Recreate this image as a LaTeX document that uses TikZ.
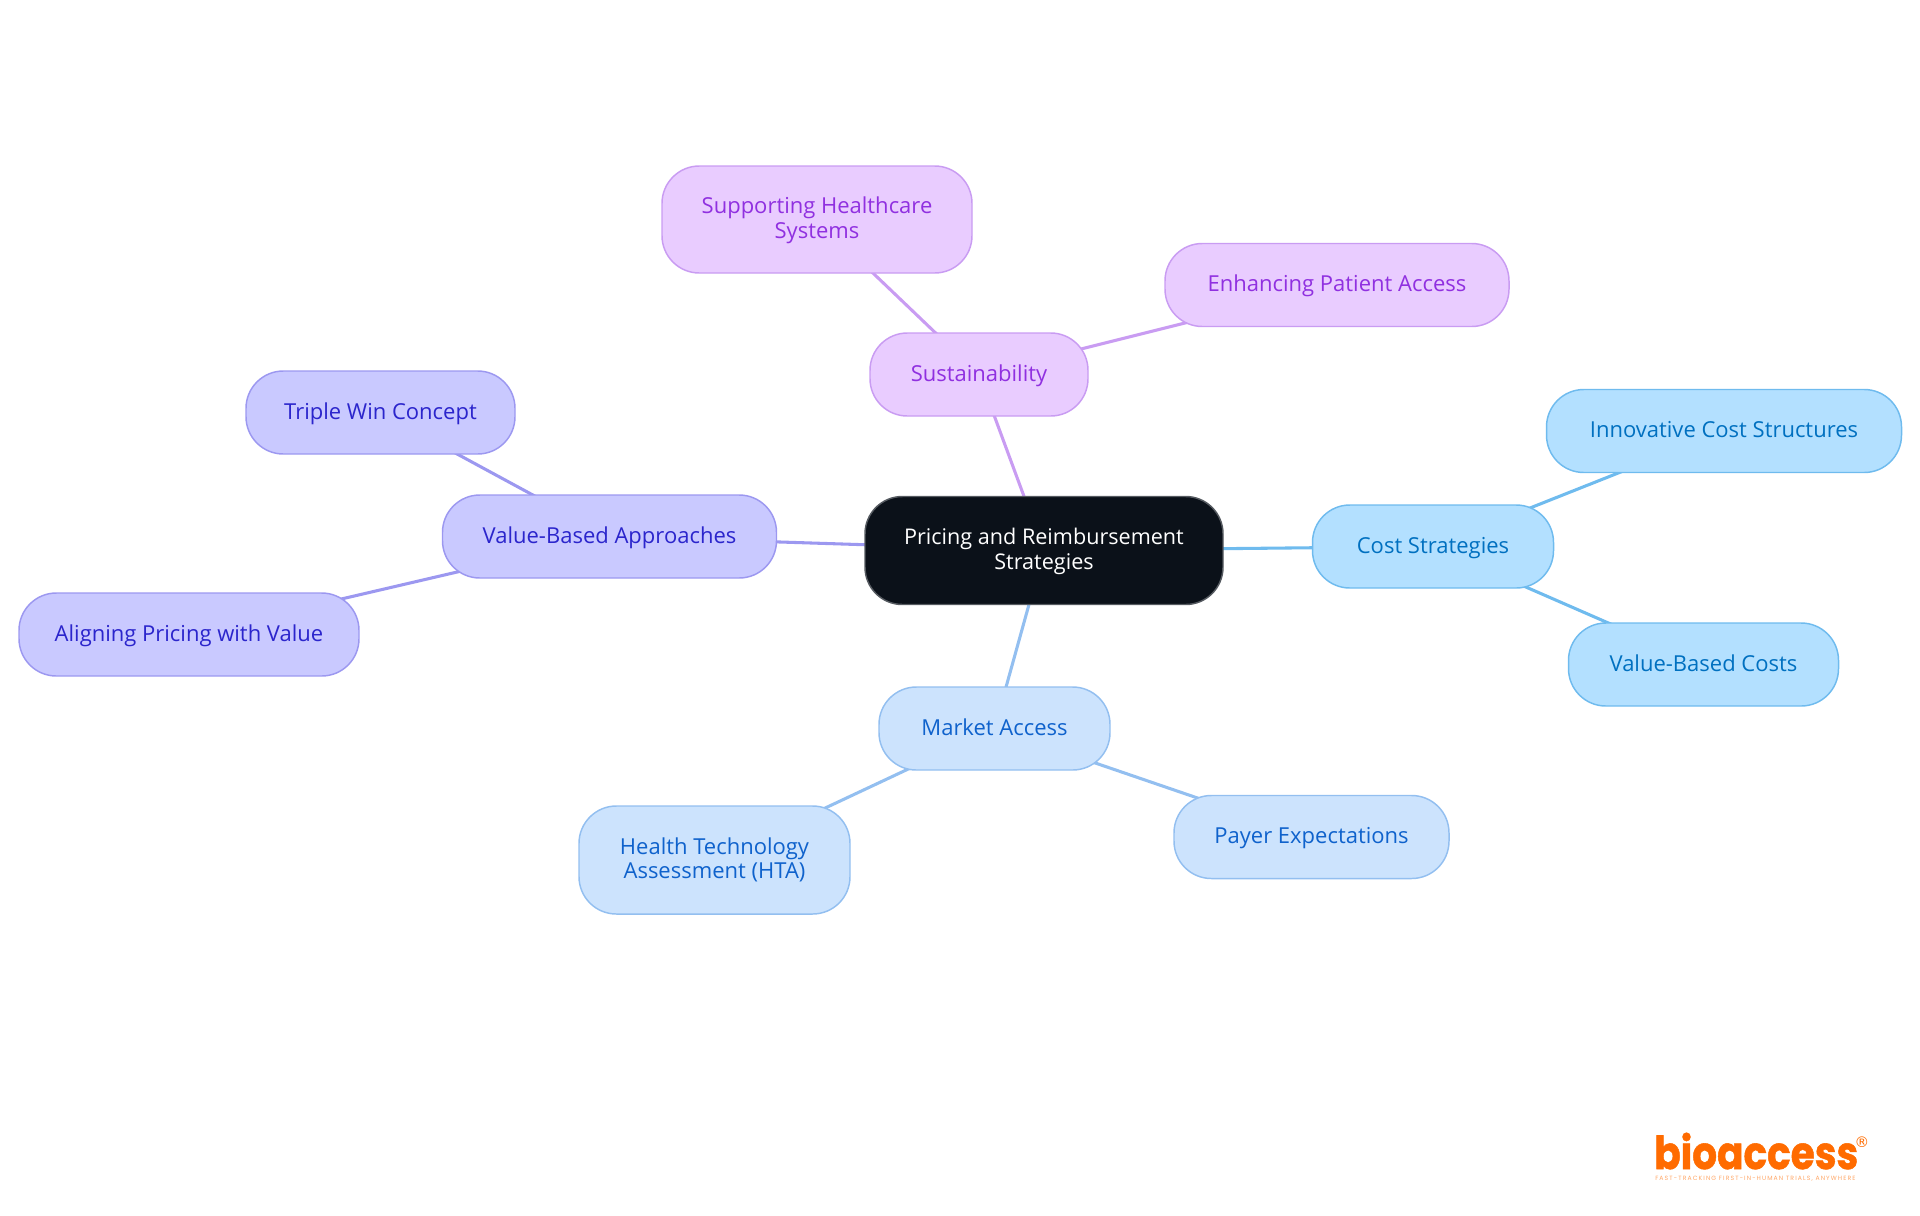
\documentclass[tikz,border=0pt]{standalone}
\usepackage{graphicx}
\usepackage{fontspec}
\setmainfont{Open Sans}
\newfontfamily\logofont[BoldFeatures={FakeBold=1.2}]{Poppins}
\newfontfamily\regfont{DejaVu Sans}
\usetikzlibrary{backgrounds}
\definecolor{centerfill}{HTML}{0B1119}
\definecolor{centerline}{HTML}{555A60}
\definecolor{purplefill}{HTML}{E9CCFF}
\definecolor{purpleline}{HTML}{C99CF2}
\definecolor{purpletext}{HTML}{9030E0}
\definecolor{skyfill}{HTML}{B3E0FF}
\definecolor{skyline}{HTML}{6FBBEE}
\definecolor{skytext}{HTML}{0070C0}
\definecolor{bluefill}{HTML}{CCE3FD}
\definecolor{blueline}{HTML}{93BFF0}
\definecolor{bluetext}{HTML}{0F62CC}
\definecolor{violetfill}{HTML}{C9C9FF}
\definecolor{violetline}{HTML}{9C98F0}
\definecolor{violettext}{HTML}{2B25CC}
\definecolor{logoorange}{HTML}{FF6B00}
\tikzset{
  x=0.75pt,y=-0.75pt,
  box/.style={rectangle,rounded corners=28pt,line width=1.1pt,inner sep=0pt,align=center,
    font=\fontsize{16.5pt}{18.4pt}\selectfont},
  oneline/.style={text height=13.9pt,text depth=3.6pt},
  twoline/.style={text depth=2.8pt},
  centerbox/.style={box,twoline,fill=centerfill,draw=centerline,text=white,minimum width=268.5pt,minimum height=81pt,
    font=\fontsize{16.2pt}{18.4pt}\selectfont},
  purplebox/.style={box,fill=purplefill,draw=purpleline,text=purpletext},
  skybox/.style={box,fill=skyfill,draw=skyline,text=skytext},
  bluebox/.style={box,fill=bluefill,draw=blueline,text=bluetext},
  violetbox/.style={box,fill=violetfill,draw=violetline,text=violettext},
  link/.style={line width=2.3pt},
  sz/.style n args={2}{minimum width=#1*0.75pt,minimum height=#2*0.75pt},
}
\begin{document}
\begin{tikzpicture}
\useasboundingbox (0,0) rectangle (1920,1215);
\node[centerbox] (root) at (1044,550.5) {Pricing and Reimbursement\\Strategies};
\node[purplebox,oneline,sz={218}{83}] (sus) at (979,374.5) {Sustainability};
\node[purplebox,twoline,sz={310}{107}] (sup) at (817,219.5) {Supporting Healthcare\\Systems};
\node[purplebox,oneline,sz={344}{83}] (enh) at (1337,285) {Enhancing Patient Access};
\node[skybox,oneline,sz={241}{83}] (cost) at (1433,546.5) {Cost Strategies};
\node[skybox,oneline,sz={355}{83}] (inn) at (1724,431) {Innovative Cost Structures};
\node[skybox,oneline,sz={270}{83}] (vbc) at (1703.5,664.5) {Value-Based Costs};
\node[bluebox,oneline,sz={231}{83}] (mar) at (994.5,728.5) {Market Access};
\node[bluebox,oneline,sz={275}{83}] (pay) at (1311.5,837) {Payer Expectations};
\node[bluebox,twoline,sz={271}{108}] (hta) at (714.5,860) {Health Technology\\Assessment (HTA)};
\node[violetbox,oneline,sz={334}{83}] (vba) at (609.5,536.5) {Value-Based Approaches};
\node[violetbox,oneline,sz={269}{83}] (tri) at (380.5,412.5) {Triple Win Concept};
\node[violetbox,oneline,sz={340}{83}] (ali) at (189,634.5) {Aligning Pricing with Value};
\node[anchor=base west,inner sep=0pt,text=logoorange,font=\logofont\bfseries\fontsize{34pt}{34pt}\selectfont] (logo) at (1654,1169) {\scalebox{0.86}[1]{bioaccess}};
\node[inner sep=0pt,text=logoorange,font=\regfont\fontsize{11pt}{11pt}\selectfont] (reg) at (1862,1142) {®};
\node[anchor=base west,inner sep=0pt,text height=3.4pt,text depth=0pt,text=logoorange!60,font=\logofont\fontsize{4.6pt}{5pt}\selectfont] (tag) at (1655,1180) {\addfontfeatures{LetterSpace=18}FAST-TRACKING FIRST-IN-HUMAN TRIALS, ANYWHERE};
\begin{scope}[on background layer]
\draw[link,purpleline] (root.center) -- (sus.center);
\draw[link,purpleline] (sus.center) -- (sup.center);
\draw[link,purpleline] (sus.center) -- (enh.center);
\draw[link,skyline] (root.center) -- (cost.center);
\draw[link,skyline] (cost.center) -- (inn.center);
\draw[link,skyline] (cost.center) -- (vbc.center);
\draw[link,blueline] (root.center) -- (mar.center);
\draw[link,blueline] (mar.center) -- (pay.center);
\draw[link,blueline] (mar.center) -- (hta.center);
\draw[link,violetline] (root.center) -- (vba.center);
\draw[link,violetline] (vba.center) -- (tri.center);
\draw[link,violetline] (vba.center) -- (ali.center);
\end{scope}
\end{tikzpicture}
\end{document}
